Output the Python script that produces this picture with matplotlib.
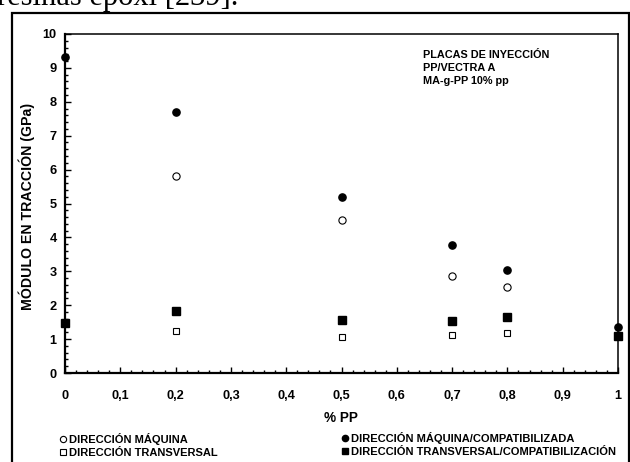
import matplotlib
matplotlib.use("Agg")
import matplotlib.pyplot as plt
from matplotlib.lines import Line2D
from matplotlib.patches import Rectangle
from matplotlib.ticker import MultipleLocator, FuncFormatter

plt.rcParams['font.family'] = ['Liberation Sans', 'DejaVu Sans']
plt.rcParams['font.weight'] = 'bold'

# Data
x_maq = [0.2, 0.5, 0.7, 0.8]
y_maq = [5.80, 4.52, 2.86, 2.55]
x_maq_comp = [0.0, 0.2, 0.5, 0.7, 0.8, 1.0]
y_maq_comp = [9.31, 7.71, 5.19, 3.78, 3.05, 1.37]
x_trans = [0.2, 0.5, 0.7, 0.8]
y_trans = [1.23, 1.07, 1.12, 1.17]
x_trans_comp = [0.0, 0.2, 0.5, 0.7, 0.8, 1.0]
y_trans_comp = [1.47, 1.84, 1.55, 1.52, 1.66, 1.09]

labels = ["DIRECCIÓN MÁQUINA", "DIRECCIÓN TRANSVERSAL",
          "DIRECCIÓN MÁQUINA/COMPATIBILIZADA", "DIRECCIÓN TRANSVERSAL/COMPATIBILIZACIÓN"]
annot_lines = ["PLACAS DE INYECCIÓN", "PP/VECTRA A", "MA-g-PP 10% pp"]

W, H = 630, 462
fig = plt.figure(figsize=(W / 100, H / 100), dpi=100)
ax = fig.add_axes([65 / W, 1 - 373 / H, (618 - 65) / W, (373 - 34) / H])

ms = 5.2
ax.plot(x_maq, y_maq, ls='none', marker='o', mfc='white', mec='black', mew=0.8, ms=ms, clip_on=False, zorder=3)
ax.plot(x_trans, y_trans, ls='none', marker='s', mfc='white', mec='black', mew=0.8, ms=ms - 0.3, clip_on=False, zorder=3)
ax.plot(x_maq_comp, y_maq_comp, ls='none', marker='o', mfc='black', mec='black', ms=ms, clip_on=False, zorder=4)
ax.plot(x_trans_comp, y_trans_comp, ls='none', marker='s', mfc='black', mec='black', ms=ms, clip_on=False, zorder=4)

ax.set_xlim(0, 1)
ax.set_ylim(0, 10)
ax.xaxis.set_major_locator(MultipleLocator(0.1))
ax.xaxis.set_minor_locator(MultipleLocator(0.02))
ax.yaxis.set_major_locator(MultipleLocator(1))
ax.yaxis.set_minor_locator(MultipleLocator(0.2))

def fmt_x(v, pos):
    if abs(v) < 1e-9:
        return "0"
    if abs(v - 1) < 1e-9:
        return "1"
    return ("%.1f" % v).replace(".", ",")

ax.xaxis.set_major_formatter(FuncFormatter(fmt_x))
ax.yaxis.set_major_formatter(FuncFormatter(lambda v, p: "%d" % round(v)))

ax.tick_params(axis='both', which='both', direction='in', top=False, right=False, width=1.0)
ax.tick_params(axis='both', which='major', length=4.5)
ax.tick_params(axis='both', which='minor', length=2.5)
ax.tick_params(axis='x', which='major', pad=12.5, labelsize=9.2)
ax.tick_params(axis='y', which='major', pad=6, labelsize=9.2)
for lab in ax.get_xticklabels() + ax.get_yticklabels():
    lab.set_fontweight('bold')

for side in ['left', 'bottom']:
    ax.spines[side].set_linewidth(1.6)
for side in ['top', 'right']:
    ax.spines[side].set_linewidth(1.1)

fig.text(27 / W, 1 - 206 / H, "MÓDULO EN TRACCIÓN (GPa)", rotation=90,
         ha='center', va='center', fontsize=10.2, fontweight='bold')
fig.text(341 / W, 1 - 418 / H, "% PP", ha='center', va='center', fontsize=9.8, fontweight='bold')

for i, line in enumerate(annot_lines):
    fig.text(423 / W, 1 - (55 + 12.8 * i) / H, line, ha='left', va='center',
             fontsize=7.8, fontweight='bold')

# Legends
h_maq = Line2D([], [], ls='none', marker='o', mfc='white', mec='black', mew=0.8, ms=4.5)
h_trans = Line2D([], [], ls='none', marker='s', mfc='white', mec='black', mew=0.8, ms=4.5)
h_maq_c = Line2D([], [], ls='none', marker='o', mfc='black', mec='black', ms=4.5)
h_trans_c = Line2D([], [], ls='none', marker='s', mfc='black', mec='black', ms=4.5)

leg_kw = dict(frameon=False, handlelength=0.5, handletextpad=0.3, labelspacing=0.25,
              borderpad=0, borderaxespad=0, prop={'weight': 'bold', 'size': 8})
fig.legend([h_maq, h_trans], labels[:2], loc='upper left',
           bbox_to_anchor=(60 / W, 1 - 433 / H), **leg_kw)
fig.legend([h_maq_c, h_trans_c], labels[2:], loc='upper left',
           bbox_to_anchor=(342 / W, 1 - 432 / H), **leg_kw)

# Outer frame and cropped caption text from the page
fig.patches.append(Rectangle((12 / W, -0.05), (628.5 - 12) / W, 1.05 - 13 / H,
                             transform=fig.transFigure, fill=False, lw=1.6,
                             edgecolor='black'))
fig.text(-0.004, 1 - 5 / H, "resinas epoxi [239].", ha='left', va='baseline',
         fontsize=22, family='Liberation Serif', fontweight='normal')

fig.savefig("out.png", dpi=100)
